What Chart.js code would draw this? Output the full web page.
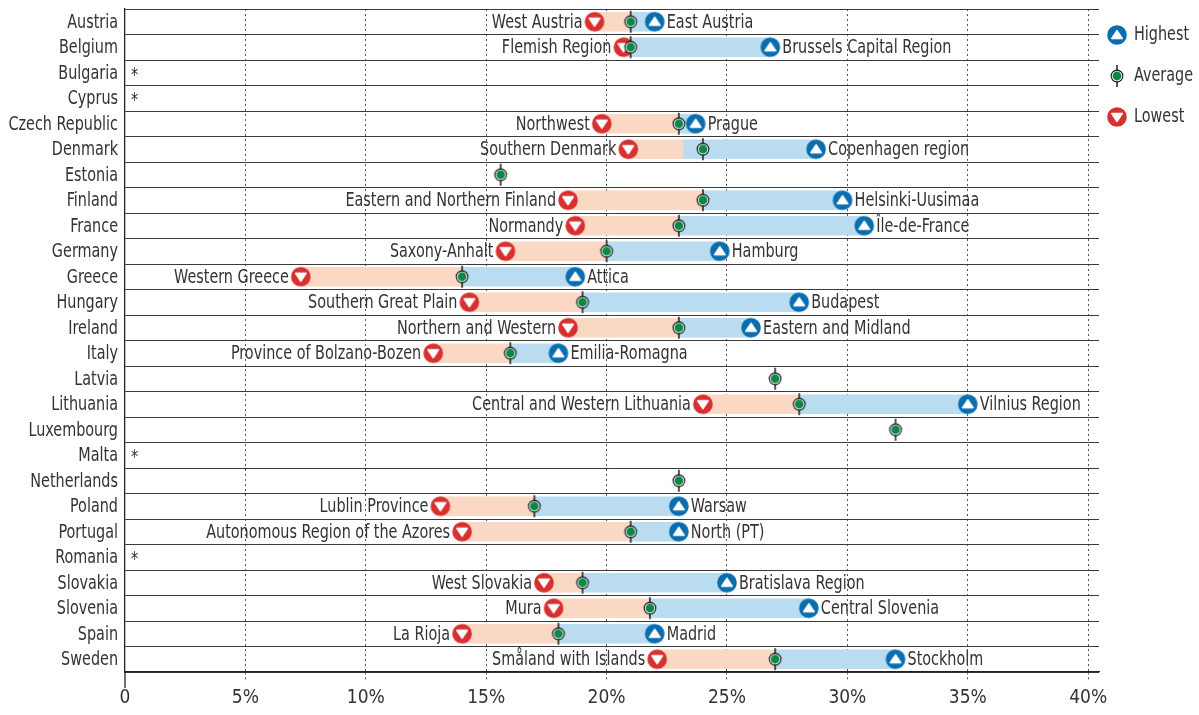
<!DOCTYPE html>
<html><head><meta charset="utf-8">
<script src="https://cdn.jsdelivr.net/npm/chart.js@4.4.1/dist/chart.umd.min.js"></script>
<style>html,body{margin:0;padding:0;background:#fff;}#wrap{width:1199px;height:715px;position:relative}</style>
</head><body><div id="wrap"><canvas id="c" width="1199" height="715"></canvas></div>
<script>
const countries = ['Austria','Belgium','Bulgaria','Cyprus','Czech Republic','Denmark','Estonia','Finland','France','Germany','Greece','Hungary','Ireland','Italy','Latvia','Lithuania','Luxembourg','Malta','Netherlands','Poland','Portugal','Romania','Slovakia','Slovenia','Spain','Sweden'];
const lowestValues  = [19.5, 20.7, null, null, 19.8, 20.9, null, 18.4, 18.7, 15.8, 7.3, 14.3, 18.4, 12.8, null, 24.0, null, null, null, 13.1, 14.0, null, 17.4, 17.8, 14.0, 22.1];
const averageValues = [21.0, 21.0, null, null, 23.0, 24.0, 15.6, 24.0, 23.0, 20.0, 14.0, 19.0, 23.0, 16.0, 27.0, 28.0, 32.0, null, 23.0, 17.0, 21.0, null, 19.0, 21.8, 18.0, 27.0];
const highestValues = [22.0, 26.8, null, null, 23.7, 28.7, null, 29.8, 30.7, 24.7, 18.7, 28.0, 26.0, 18.0, null, 35.0, null, null, null, 23.0, 23.0, null, 25.0, 28.4, 22.0, 32.0];
const barSplitValues = [21.0, 21.0, null, null, 23.0, 23.2, null, 24.0, 23.0, 20.0, 14.0, 19.0, 23.0, 16.0, null, 28.0, null, null, null, 17.0, 21.0, null, 19.0, 21.8, 18.0, 27.0];
const lowestRegions = ['West Austria','Flemish Region','','','Northwest','Southern Denmark','','Eastern and Northern Finland','Normandy','Saxony-Anhalt','Western Greece','Southern Great Plain','Northern and Western','Province of Bolzano-Bozen','','Central and Western Lithuania','','','','Lublin Province','Autonomous Region of the Azores','','West Slovakia','Mura','La Rioja','Småland with Islands'];
const highestRegions = ['East Austria','Brussels Capital Region','','','Prague','Copenhagen region','','Helsinki-Uusimaa','Île-de-France','Hamburg','Attica','Budapest','Eastern and Midland','Emilia-Romagna','','Vilnius Region','','','','Warsaw','North (PT)','','Bratislava Region','Central Slovenia','Madrid','Stockholm'];
const noDataMarks = ['','','*','*','','','','','','','','','','','','','','*','','','','*','','','',''];
const xTickValues = [0,5,10,15,20,25,30,35,40];
const legendLabels = ['Highest','Average','Lowest'];

const FONT = '"DejaVu Sans Condensed", "DejaVu Sans", sans-serif';
const TEXT = '#333333';
const SQUEEZE = 0.8;

function mkCanvas(w,h){const c=document.createElement('canvas');c.width=w;c.height=h;return c;}
function triMarker(color, up){
  const c=mkCanvas(22,22), g=c.getContext('2d');
  g.fillStyle=color; g.beginPath(); g.arc(11,11,9.8,0,Math.PI*2); g.fill();
  g.fillStyle='#fff'; g.strokeStyle='#fff'; g.lineWidth=1.6; g.lineJoin='round';
  g.beginPath();
  if(up){g.moveTo(5.8,14.4);g.lineTo(16.2,14.4);g.lineTo(11,6.6);}
  else {g.moveTo(5.8,7.6);g.lineTo(16.2,7.6);g.lineTo(11,15.4);}
  g.closePath(); g.fill(); g.stroke();
  return c;
}
function avgMarker(){
  const c=mkCanvas(18,24), g=c.getContext('2d');
  g.strokeStyle='#111'; g.lineWidth=1.4;
  g.beginPath(); g.moveTo(9,1); g.lineTo(9,7); g.moveTo(9,17); g.lineTo(9,23); g.stroke();
  g.fillStyle='#111'; g.beginPath(); g.arc(9,12,6.4,0,Math.PI*2); g.fill();
  g.fillStyle='#fff'; g.beginPath(); g.arc(9,12,5.3,0,Math.PI*2); g.fill();
  g.fillStyle='#0b8747'; g.beginPath(); g.arc(9,12,4.4,0,Math.PI*2); g.fill();
  return c;
}
const redM = triMarker('#d7302f', false);
const blueM = triMarker('#0a6db0', true);
const greenM = avgMarker();

function pts(vals){ const out=[]; vals.forEach((v,i)=>{ if(v!=null) out.push({x:v, y:countries[i]}); }); return out; }

function narrowText(ctx, text, x, y, align){
  ctx.save();
  ctx.translate(x, y); ctx.scale(SQUEEZE, 1);
  ctx.textAlign = align; ctx.fillText(text, 0, 0);
  ctx.restore();
}

const labelsPlugin = {
  id:'labelsPlugin',
  afterDatasetsDraw(chart){
    const {ctx, scales:{x,y}} = chart;
    ctx.save();
    ctx.font = '20px ' + FONT; ctx.fillStyle = TEXT; ctx.textBaseline='middle';
    const x0 = x.getPixelForValue(0);
    countries.forEach((c,i)=>{
      const yy = y.getPixelForValue(i) + 1;
      narrowText(ctx, c, x0 - 7, yy, 'right');
      if(lowestValues[i]!=null && lowestRegions[i]){
        narrowText(ctx, lowestRegions[i], x.getPixelForValue(lowestValues[i]) - 12, yy, 'right');
      }
      if(highestValues[i]!=null && highestRegions[i]){
        narrowText(ctx, highestRegions[i], x.getPixelForValue(highestValues[i]) + 12, yy, 'left');
      }
      if(noDataMarks[i]){
        narrowText(ctx, noDataMarks[i], x0 + 6, yy + 2, 'left');
      }
    });
    // legend
    const lx = chart.chartArea.right + 18;
    const imgs=[blueM, greenM, redM];
    const ys=[35,76,117];
    legendLabels.forEach((t,k)=>{
      ctx.drawImage(imgs[k], lx - imgs[k].width/2, ys[k] - imgs[k].height/2);
      narrowText(ctx, t, lx + 17, ys[k], 'left');
    });
    // solid extension of left axis below bottom
    ctx.strokeStyle='#222'; ctx.lineWidth=1.3;
    ctx.beginPath(); ctx.moveTo(x0, chart.chartArea.bottom); ctx.lineTo(x0, chart.chartArea.bottom + 16); ctx.stroke();
    ctx.restore();
  }
};

new Chart(document.getElementById('c'), {
  type:'bar',
  data:{
    labels: countries,
    datasets:[
      {type:'line', indexAxis:'y', data: pts(averageValues), showLine:false, pointStyle: greenM, order:0},
      {type:'line', indexAxis:'y', data: pts(highestValues), showLine:false, pointStyle: blueM, order:1},
      {type:'line', indexAxis:'y', data: pts(lowestValues), showLine:false, pointStyle: redM, order:2},
      {type:'bar', data: countries.map((c,i)=> lowestValues[i]!=null ? [lowestValues[i], barSplitValues[i]] : null), backgroundColor:'#fbd8c4', grouped:false, barThickness:19, order:4},
      {type:'bar', data: countries.map((c,i)=> highestValues[i]!=null ? [barSplitValues[i], highestValues[i]] : null), backgroundColor:'#b9dcf0', grouped:false, barThickness:19, order:3}
    ]
  },
  options:{
    indexAxis:'y', responsive:false, animation:false, devicePixelRatio:1,
    layout:{padding:{top:9, right:100, left:0, bottom:0}},
    plugins:{legend:{display:false}, tooltip:{enabled:false}},
    scales:{
      x:{type:'linear', min:0, max:40.45, position:'bottom',
        afterBuildTicks: s => { s.ticks = xTickValues.map(v=>({value:v})); },
        afterFit: s => { s.height = 43; },
        grid:{color: c => (c.tick && c.tick.value===0) ? 'rgba(0,0,0,0)' : '#555', lineWidth:1, drawTicks:true, tickLength:10,
              tickColor: c => (c.tick && c.tick.value===0) ? 'rgba(0,0,0,0)' : '#555', tickBorderDash:[2,3]},
        border:{display:true, color:'#222', width:1.3, dash:[2,3]},
        ticks:{font:{size:19, family:FONT}, color:TEXT, padding:5, maxRotation:0, callback: v => v===0 ? '0' : v + '%'}
      },
      y:{type:'category', labels: countries, offset:true,
        grid:{offset:true, color:'#3a3a3a', lineWidth:1, drawTicks:false},
        border:{display:true, color:'#222', width:1.3},
        ticks:{display:false},
        afterFit: s => { s.width = 125; }
      }
    }
  },
  plugins:[labelsPlugin]
});
</script></body></html>
